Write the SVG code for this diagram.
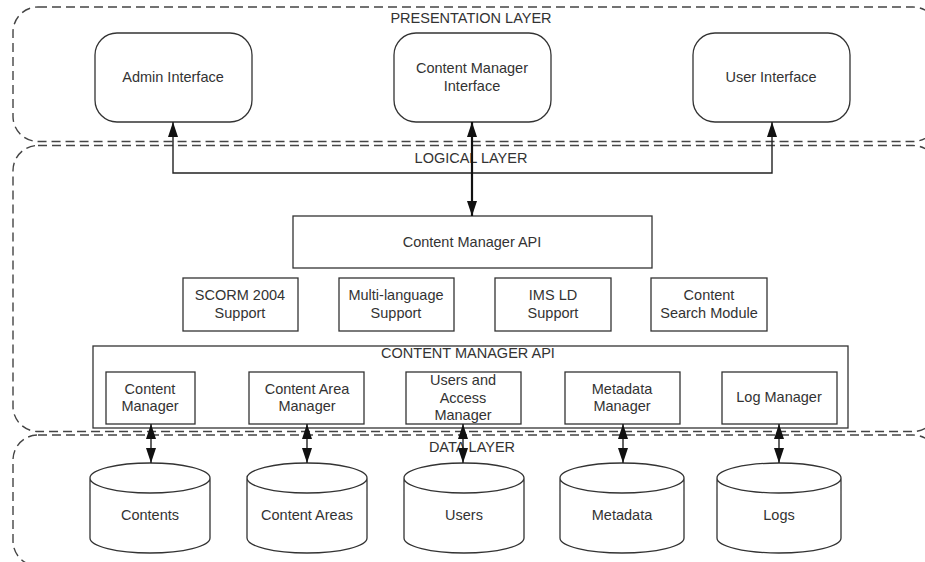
<svg xmlns="http://www.w3.org/2000/svg" width="925" height="562" viewBox="0 0 925 562">
<style>
text{font-family:"Liberation Sans",Arial,sans-serif;font-size:14.5px;fill:#333;text-anchor:middle}
.layer{fill:none;stroke:#444;stroke-width:1.4;stroke-dasharray:9,5}
.box{fill:#fff;stroke:#333;stroke-width:1.3}
.frame{fill:none;stroke:#333;stroke-width:1.3}
.cyl{fill:#fff;stroke:#333;stroke-width:1.3}
.ln{fill:none;stroke:#222;stroke-width:1.4}
.thick{fill:none;stroke:#111;stroke-width:2.2}
</style>
<defs>
<marker id="ah" viewBox="0 0 10 14" refX="10" refY="5" markerWidth="10" markerHeight="14" markerUnits="userSpaceOnUse" orient="auto-start-reverse">
<path d="M0,0 L14,5 L0,10 Z" fill="#111"/>
</marker>
<marker id="ah2" viewBox="0 0 15 10" refX="15" refY="5" markerWidth="15" markerHeight="10" markerUnits="userSpaceOnUse" orient="auto-start-reverse">
<path d="M0,0 L15,5 L0,10 Z" fill="#111"/>
</marker>
</defs>
<rect width="925" height="562" fill="#fff"/>
<g id="layers">
<g id="presentation-layer"><rect class="layer" x="13" y="7" width="925" height="134.5" rx="25"/><text x="471" y="23">PRESENTATION LAYER</text></g>
<g id="logical-layer"><rect class="layer" x="13" y="145.5" width="925" height="286" rx="25"/><text x="471" y="163">LOGICAL LAYER</text></g>
<g id="data-layer"><rect class="layer" x="13" y="435" width="925" height="131" rx="25"/></g>
</g>
<g id="admin-interface"><rect class="box" x="95" y="33" width="157" height="89" rx="22"/><text x="173" y="82">Admin Interface</text></g>
<g id="content-manager-interface"><rect class="box" x="394" y="33" width="157" height="89" rx="22"/><text x="472" y="73">Content Manager</text><text x="472" y="91">Interface</text></g>
<g id="user-interface"><rect class="box" x="693" y="33" width="157" height="89" rx="22"/><text x="771" y="82">User Interface</text></g>
<g id="content-manager-api"><rect class="box" x="293" y="216" width="359" height="52"/><text x="472" y="247">Content Manager API</text></g>
<g id="scorm"><rect class="box" x="183" y="278" width="115" height="53"/><text x="240" y="300">SCORM 2004</text><text x="240" y="318">Support</text></g>
<g id="multilanguage"><rect class="box" x="339" y="278" width="115" height="53"/><text x="396" y="300">Multi-language</text><text x="396" y="318">Support</text></g>
<g id="imsld"><rect class="box" x="495" y="278" width="116" height="53"/><text x="553" y="300">IMS LD</text><text x="553" y="318">Support</text></g>
<g id="search"><rect class="box" x="651" y="278" width="116" height="53"/><text x="709" y="300">Content</text><text x="709" y="318">Search Module</text></g>
<g id="content-manager-api-group"><rect class="frame" x="93" y="346" width="755" height="82"/><text x="468" y="358">CONTENT MANAGER API</text></g>
<g id="content-manager"><rect class="box" x="106" y="372" width="89" height="52"/><text x="150" y="394">Content</text><text x="150" y="411">Manager</text></g>
<g id="content-area-manager"><rect class="box" x="249" y="372" width="115" height="52"/><text x="307" y="394">Content Area</text><text x="307" y="411">Manager</text></g>
<g id="users-access-manager"><rect class="box" x="406" y="372" width="115" height="52"/><text x="463" y="385">Users and</text><text x="463" y="403">Access</text><text x="463" y="420">Manager</text></g>
<g id="metadata-manager"><rect class="box" x="565" y="372" width="115" height="52"/><text x="622" y="394">Metadata</text><text x="622" y="411">Manager</text></g>
<g id="log-manager"><rect class="box" x="722" y="372" width="115" height="52"/><text x="779" y="402">Log Manager</text></g>
<g id="data-layer-label"><text x="472" y="452">DATA LAYER</text></g>
<g id="contents"><path class="cyl" d="M90,478 A60,15 0 0,1 210,478 L210,538 A60,15 0 0,1 90,538 Z M90,478 A60,15 0 0,0 210,478"/><text x="150" y="520">Contents</text></g>
<g id="content-areas"><path class="cyl" d="M247,478 A60,15 0 0,1 367,478 L367,538 A60,15 0 0,1 247,538 Z M247,478 A60,15 0 0,0 367,478"/><text x="307" y="520">Content Areas</text></g>
<g id="users"><path class="cyl" d="M404,478 A60,15 0 0,1 524,478 L524,538 A60,15 0 0,1 404,538 Z M404,478 A60,15 0 0,0 524,478"/><text x="464" y="520">Users</text></g>
<g id="metadata"><path class="cyl" d="M560,478 A62,15 0 0,1 684,478 L684,538 A62,15 0 0,1 560,538 Z M560,478 A62,15 0 0,0 684,478"/><text x="622" y="520">Metadata</text></g>
<g id="logs"><path class="cyl" d="M717,478 A62,15 0 0,1 841,478 L841,538 A62,15 0 0,1 717,538 Z M717,478 A62,15 0 0,0 841,478"/><text x="779" y="520">Logs</text></g>
<g id="connectors">
<path class="ln" d="M173,122 L173,173 L772,173 L772,122" marker-start="url(#ah2)" marker-end="url(#ah2)"/>
<path class="thick" d="M472,122 L472,216" marker-start="url(#ah2)" marker-end="url(#ah2)"/>
<path class="ln" d="M151,424 L151,463" marker-start="url(#ah2)" marker-end="url(#ah2)"/>
<path class="ln" d="M307,424 L307,463" marker-start="url(#ah2)" marker-end="url(#ah2)"/>
<path class="ln" d="M463,424 L463,463" marker-start="url(#ah2)" marker-end="url(#ah2)"/>
<path class="ln" d="M623,424 L623,463" marker-start="url(#ah2)" marker-end="url(#ah2)"/>
<path class="ln" d="M779,424 L779,463" marker-start="url(#ah2)" marker-end="url(#ah2)"/>
</g>
</svg>
